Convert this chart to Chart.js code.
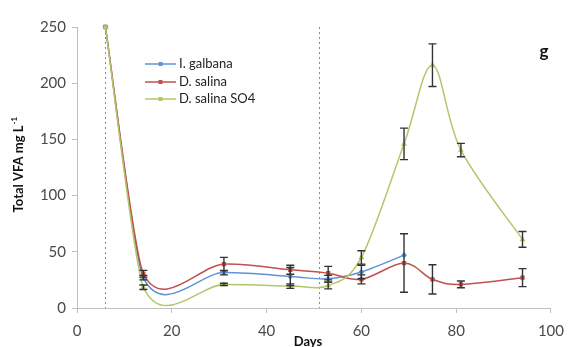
<!DOCTYPE html>
<html><head><meta charset="utf-8">
<script src="https://cdn.jsdelivr.net/npm/chart.js@4/dist/chart.umd.min.js"></script>
<style>html,body{margin:0;padding:0;background:#fff}#w{width:573px;height:347px;position:relative}</style>
</head><body><div id="w"><canvas id="c" width="573" height="347"></canvas></div>
<script>
const days = [6, 14, 31, 45, 53, 60, 69, 75, 81, 94];
const galbanaDays = [6, 14, 31, 45, 53, 60, 69];
const galbana = [250, 27, 31.5, 28, 26, 32, 47];
const galbanaErr = [0, 2, 2, 8, 3, 6, 0];
const salina = [250, 30.5, 39, 34, 31, 25.5, 40, 25.5, 21, 27];
const salinaErr = [0, 3, 6, 4, 6, 4, 26, 13, 3, 8];
const so4 = [250, 18.5, 21, 19.5, 20, 45, 146, 216, 140.5, 61];
const so4Err = [0, 2, 1, 2, 3, 6, 14, 19, 6, 7];
const markerDays = [6, 51];
const seriesNames = ['I. galbana', 'D. salina', 'D. salina SO4'];
const xTicks = [0, 20, 40, 60, 80, 100];
const yTicks = [0, 50, 100, 150, 200, 250];

const colors = ['#5f93d4', '#c0504d', '#b3c76a'];
const shapes = ['rectRot', 'rect', 'triangle'];
const FONT = 'Lato, "Open Sans", sans-serif';

function pts(xs, ys) { return xs.map((d, i) => ({x: d, y: ys[i]})); }
const errs = [galbanaErr, salinaErr, so4Err];

// Excel-like smoothing: Catmull-Rom handles (1/6 of neighbour chord)
const smoothing = {
  id: 'smoothing',
  beforeDatasetDraw(chart, args) {
    const meta = args.meta, line = meta.dataset, p = meta.data;
    if (!line || !p.length) return;
    line.updateControlPoints(chart.chartArea);
    const dist = (a, b) => Math.hypot(a.x - b.x, a.y - b.y);
    for (let i = 0; i < p.length; i++) {
      const prev = p[i - 1] || p[i], next = p[i + 1] || p[i];
      const tx = (next.x - prev.x) / 6, ty = (next.y - prev.y) / 6;
      const dp = dist(prev, p[i]), dn = dist(p[i], next);
      const fin = dp > 0 && dn > 0 ? Math.min(1, 1.5 * dn / dp) : 1;
      p[i].cp1x = p[i].x - tx * fin; p[i].cp1y = p[i].y - ty * fin;
      p[i].cp2x = p[i].x + tx; p[i].cp2y = p[i].y + ty;
    }
  }
};

const extras = {
  id: 'extras',
  beforeDatasetsDraw(chart) {
    const {ctx, chartArea: a, scales: {x}} = chart;
    ctx.save();
    ctx.strokeStyle = '#8a8a8a'; ctx.lineWidth = 1; ctx.setLineDash([2, 3]);
    markerDays.forEach(d => {
      const px = Math.round(x.getPixelForValue(d)) + 0.5;
      ctx.beginPath(); ctx.moveTo(px, a.top); ctx.lineTo(px, a.bottom); ctx.stroke();
    });
    ctx.restore();
  },
  afterDatasetsDraw(chart) {
    const {ctx, scales: {x, y}} = chart;
    ctx.save();
    ctx.strokeStyle = '#333'; ctx.lineWidth = 1.4;
    chart.data.datasets.forEach((ds, k) => {
      ds.data.forEach((p, i) => {
        const e = errs[k][i];
        if (!e) return;
        const px = x.getPixelForValue(p.x);
        const t = y.getPixelForValue(p.y + e), b = y.getPixelForValue(p.y - e);
        ctx.beginPath();
        ctx.moveTo(px, t); ctx.lineTo(px, b);
        ctx.moveTo(px - 4, t); ctx.lineTo(px + 4, t);
        ctx.moveTo(px - 4, b); ctx.lineTo(px + 4, b);
        ctx.stroke();
      });
    });
    // legend
    const ly = [64, 82, 99];
    seriesNames.forEach((n, k) => {
      ctx.strokeStyle = colors[k]; ctx.lineWidth = 1.5;
      ctx.beginPath(); ctx.moveTo(145, ly[k]); ctx.lineTo(176, ly[k]); ctx.stroke();
      ctx.fillStyle = colors[k];
      ctx.fillRect(158.5, ly[k] - 2, 4, 4);
      ctx.fillStyle = '#222'; ctx.font = '13px ' + FONT;
      ctx.textAlign = 'left'; ctx.textBaseline = 'middle';
      ctx.fillText(n, 179, ly[k]);
    });
    // panel letter
    ctx.font = 'bold 17px ' + FONT; ctx.fillStyle = '#111';
    ctx.textAlign = 'center'; ctx.fillText('g', 544, 52);
    // axis titles
    ctx.font = 'bold 13px ' + FONT; ctx.fillStyle = '#111';
    ctx.fillText('Days', 308, 342);
    ctx.save();
    ctx.translate(19, 165); ctx.rotate(-Math.PI / 2);
    ctx.textAlign = 'center';
    const main = 'Total VFA mg L';
    const w = ctx.measureText(main).width;
    ctx.fillText(main, -4, 0);
    ctx.font = 'bold 8px ' + FONT;
    ctx.textAlign = 'left';
    ctx.fillText('-1', -4 + w / 2 + 1, -5);
    ctx.restore();
    ctx.restore();
  }
};

new Chart(document.getElementById('c'), {
  type: 'line',
  data: {
    datasets: [
      {label: seriesNames[0], data: pts(galbanaDays, galbana), order: 3},
      {label: seriesNames[1], data: pts(days, salina), order: 2},
      {label: seriesNames[2], data: pts(days, so4), order: 1}
    ].map((d, k) => Object.assign(d, {
      borderColor: colors[k], backgroundColor: colors[k], borderWidth: 1.5,
      pointStyle: shapes[k], pointRadius: 2, pointHoverRadius: 2,
      tension: 0.4, fill: false, clip: false
    }))
  },
  options: {
    responsive: false, animation: false, events: [],
    layout: {padding: {top: 27, right: 16, left: 0, bottom: 0}},
    plugins: {legend: {display: false}, tooltip: {enabled: false}},
    scales: {
      x: {
        type: 'linear', min: 0, max: 100,
        afterBuildTicks(s) { s.ticks = xTicks.map(v => ({value: v})); },
        afterFit(s) { s.height = 39; },
        grid: {drawOnChartArea: false, drawTicks: true, tickLength: 5, color: '#bfbfbf'},
        border: {color: '#bfbfbf', width: 1},
        ticks: {font: {size: 15, family: FONT}, color: '#4a4a4a', padding: 9, maxRotation: 0}
      },
      y: {
        min: 0, max: 250,
        afterBuildTicks(s) { s.ticks = yTicks.map(v => ({value: v})); },
        afterFit(s) { s.width = 77; },
        grid: {drawOnChartArea: false, drawTicks: true, tickLength: 5, color: '#bfbfbf'},
        border: {color: '#bfbfbf', width: 1},
        ticks: {font: {size: 15, family: FONT}, color: '#4a4a4a', padding: 6}
      }
    }
  },
  plugins: [extras, smoothing]
});
</script></body></html>
